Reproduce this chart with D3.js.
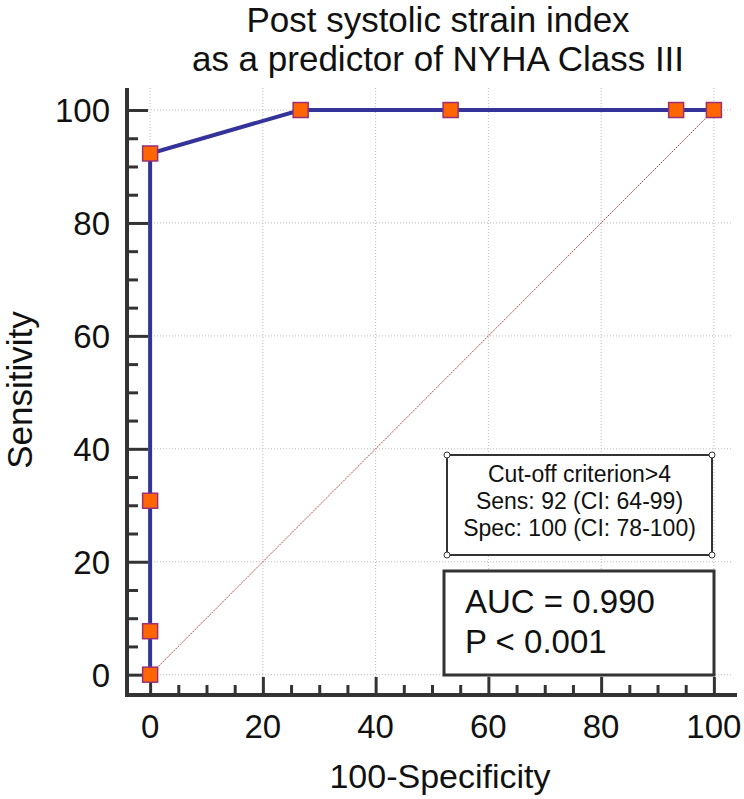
<!DOCTYPE html>
<html>
<head>
<meta charset="utf-8">
<script src="https://cdn.jsdelivr.net/npm/d3@7"></script>
<style>
  body { margin: 0; background: #fff; }
  text { font-family: "Liberation Sans", Arial, sans-serif; fill: #111; }
</style>
</head>
<body>
<svg width="744" height="799"></svg>
<script>
// ROC points (100-Specificity, Sensitivity)
var fpr = [0, 0, 0, 0, 26.7, 53.3, 93.3, 100];
var tpr = [0, 7.7, 30.8, 92.3, 100, 100, 100, 100];
var majorTicks = [0, 20, 40, 60, 80, 100];
var minorTicks = [5, 10, 15, 25, 30, 35, 45, 50, 55, 65, 70, 75, 85, 90, 95];
var titleLines = ["Post systolic strain index", "as a predictor of NYHA Class III"];
var cutoffLines = ["Cut-off criterion>4", "Sens: 92 (CI: 64-99)", "Spec: 100 (CI: 78-100)"];
var aucLines = ["AUC = 0.990", "P < 0.001"];

var svg = d3.select("svg"),
    pLeft = 127, pRight = 737, pTop = 88, pBottom = 695;

var x = d3.scaleLinear().domain([-4.1, 104.1]).range([pLeft, pRight]),
    y = d3.scaleLinear().domain([-3.6, 103.9]).range([pBottom, pTop]);

var data = fpr.map(function(d, i) { return {x: d, y: tpr[i]}; });

// title
svg.selectAll(".title")
  .data(titleLines)
  .enter().append("text")
  .attr("class", "title")
  .attr("x", 438)
  .attr("y", function(d, i) { return 32 + i * 39; })
  .attr("text-anchor", "middle")
  .style("font-size", "35px")
  .text(function(d) { return d; });

// grid
var grid = svg.append("g");
grid.selectAll(".vg")
  .data(majorTicks)
  .enter().append("line")
  .attr("x1", function(d) { return x(d); })
  .attr("x2", function(d) { return x(d); })
  .attr("y1", pTop)
  .attr("y2", pBottom - 18)
  .style("stroke", "#bbb")
  .style("stroke-dasharray", "1,2");
grid.selectAll(".hg")
  .data(majorTicks)
  .enter().append("line")
  .attr("x1", pLeft + 21)
  .attr("x2", pRight - 4)
  .attr("y1", function(d) { return y(d); })
  .attr("y2", function(d) { return y(d); })
  .style("stroke", "#bbb")
  .style("stroke-dasharray", "1,2");

// diagonal reference line
svg.append("line")
  .attr("x1", x(0)).attr("y1", y(0))
  .attr("x2", x(100)).attr("y2", y(100))
  .style("stroke", "#b84848")
  .style("stroke-width", 1)
  .style("stroke-dasharray", "2,1");

// axes (ticks pointing inward)
var xAxis = svg.append("g")
  .attr("transform", "translate(0," + pBottom + ")")
  .call(d3.axisTop(x).tickValues(majorTicks).tickSize(18).tickFormat(""));
svg.append("g")
  .attr("transform", "translate(0," + pBottom + ")")
  .call(d3.axisTop(x).tickValues(minorTicks).tickSize(10).tickFormat(""))
  .select(".domain").remove();
var yAxis = svg.append("g")
  .attr("transform", "translate(" + pLeft + ",0)")
  .call(d3.axisRight(y).tickValues(majorTicks).tickSize(21).tickFormat(""));
svg.append("g")
  .attr("transform", "translate(" + pLeft + ",0)")
  .call(d3.axisRight(y).tickValues(minorTicks).tickSize(11).tickFormat(""))
  .select(".domain").remove();

svg.selectAll(".tick line").style("stroke", "#333").style("stroke-width", 3);
xAxis.select(".domain").attr("d", "M" + pLeft + ",0H" + pRight).style("stroke", "#333").style("stroke-width", 4);
yAxis.select(".domain").attr("d", "M0," + pTop + "V" + (pBottom + 2)).style("stroke", "#333").style("stroke-width", 4);

// tick labels
svg.selectAll(".xl")
  .data(majorTicks)
  .enter().append("text")
  .attr("x", function(d) { return x(d); })
  .attr("y", 738)
  .attr("text-anchor", "middle")
  .style("font-size", "33px")
  .text(function(d) { return d; });
svg.selectAll(".yl")
  .data(majorTicks)
  .enter().append("text")
  .attr("x", 110)
  .attr("y", function(d) { return y(d) + 12; })
  .attr("text-anchor", "end")
  .style("font-size", "33px")
  .text(function(d) { return d; });

// axis titles
svg.append("text")
  .attr("x", 440)
  .attr("y", 788)
  .attr("text-anchor", "middle")
  .style("font-size", "34px")
  .text("100-Specificity");
svg.append("text")
  .attr("transform", "translate(32,390) rotate(-90)")
  .attr("text-anchor", "middle")
  .style("font-size", "35px")
  .text("Sensitivity");

// ROC curve
var line = d3.line()
  .x(function(d) { return x(d.x); })
  .y(function(d) { return y(d.y); });
svg.append("path")
  .datum(data)
  .attr("d", line)
  .style("fill", "none")
  .style("stroke", "#33339a")
  .style("stroke-width", 4);

svg.selectAll(".pt")
  .data(data)
  .enter().append("rect")
  .attr("x", function(d) { return x(d.x) - 7.5; })
  .attr("y", function(d) { return y(d.y) - 7.5; })
  .attr("width", 15)
  .attr("height", 15)
  .style("fill", "#ff6600")
  .style("stroke", "#9a2f78")
  .style("stroke-width", 1.5);

// cut-off box
var cb = {x: 447, y: 455, w: 265, h: 100};
svg.append("rect")
  .attr("x", cb.x).attr("y", cb.y).attr("width", cb.w).attr("height", cb.h)
  .style("fill", "#fff").style("stroke", "#333").style("stroke-width", 2);
svg.selectAll(".corner")
  .data([[cb.x, cb.y], [cb.x + cb.w, cb.y], [cb.x, cb.y + cb.h], [cb.x + cb.w, cb.y + cb.h]])
  .enter().append("circle")
  .attr("cx", function(d) { return d[0]; })
  .attr("cy", function(d) { return d[1]; })
  .attr("r", 3)
  .style("fill", "#fff").style("stroke", "#333").style("stroke-width", 1);
svg.selectAll(".cl")
  .data(cutoffLines)
  .enter().append("text")
  .attr("x", cb.x + cb.w / 2)
  .attr("y", function(d, i) { return cb.y + 27 + i * 27; })
  .attr("text-anchor", "middle")
  .style("font-size", "23px")
  .text(function(d) { return d; });

// AUC box
svg.append("rect")
  .attr("x", 444).attr("y", 571).attr("width", 270).attr("height", 104)
  .style("fill", "#fff").style("stroke", "#333").style("stroke-width", 3);
svg.selectAll(".al")
  .data(aucLines)
  .enter().append("text")
  .attr("x", 465)
  .attr("y", function(d, i) { return 613 + i * 40; })
  .style("font-size", "33px")
  .text(function(d) { return d; });
</script>
</body>
</html>
